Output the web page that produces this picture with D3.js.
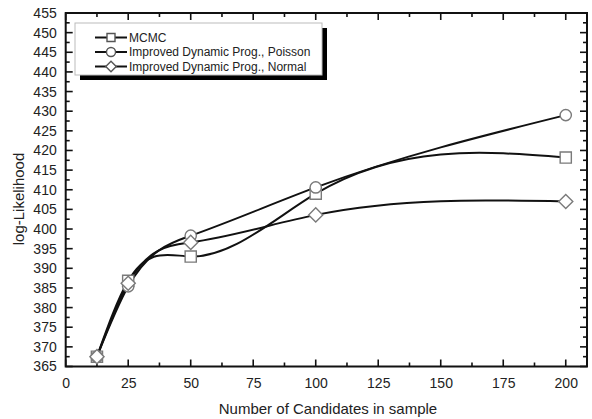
<!DOCTYPE html>
<html><head><meta charset="utf-8">
<script src="https://cdn.jsdelivr.net/npm/d3@7"></script>
<style>body{margin:0;background:#fff;} svg{display:block;}</style>
</head><body>
<svg id="c" width="592" height="419"></svg>
<script>
const xValues = [12.5, 25, 50, 100, 200];
const mcmc    = [367.5, 386.8, 393.0, 409.0, 418.2];
const poisson = [367.5, 385.4, 398.3, 410.6, 429.0];
const normal  = [367.5, 386.2, 396.6, 403.6, 407.0];
const seriesNames = ["MCMC", "Improved Dynamic Prog., Poisson", "Improved Dynamic Prog., Normal"];
const seriesSymbols = ["square", "circle", "diamond"];
const xTicks = [0, 25, 50, 75, 100, 125, 150, 175, 200];
const yTicks = d3.range(365, 456, 5);
const xTitle = "Number of Candidates in sample";
const yTitle = "log-Likelihood";

// Custom d3 curve: natural cubic spline with x as independent variable
function NaturalX(context) { this._context = context; }
NaturalX.prototype = {
  areaStart() {}, areaEnd() {},
  lineStart() { this._x = []; this._y = []; },
  point(x, y) { this._x.push(+x); this._y.push(+y); },
  lineEnd() {
    const X = this._x, Y = this._y, n = X.length, c = this._context;
    if (!n) return;
    c.moveTo(X[0], Y[0]);
    if (n === 2) { c.lineTo(X[1], Y[1]); return; }
    const h = [], d = [];
    for (let i = 0; i < n - 1; i++) { h.push(X[i+1] - X[i]); d.push((Y[i+1] - Y[i]) / h[i]); }
    // tridiagonal solve for second derivatives M (natural ends)
    const M = new Array(n).fill(0);
    const m = n - 2, a = [], b = [], cc = [], r = [];
    for (let i = 1; i <= m; i++) {
      a.push(h[i-1]); b.push(2 * (h[i-1] + h[i])); cc.push(h[i]); r.push(6 * (d[i] - d[i-1]));
    }
    for (let i = 1; i < m; i++) {
      const w = a[i] / b[i-1];
      b[i] -= w * cc[i-1]; r[i] -= w * r[i-1];
    }
    const sol = new Array(m);
    sol[m-1] = r[m-1] / b[m-1];
    for (let i = m - 2; i >= 0; i--) sol[i] = (r[i] - cc[i] * sol[i+1]) / b[i];
    for (let i = 0; i < m; i++) M[i+1] = sol[i];
    for (let i = 0; i < n - 1; i++) {
      const ml = d[i] - h[i] * (2 * M[i] + M[i+1]) / 6;
      const mr = d[i] + h[i] * (M[i] + 2 * M[i+1]) / 6;
      c.bezierCurveTo(X[i] + h[i]/3, Y[i] + ml * h[i]/3,
                      X[i+1] - h[i]/3, Y[i+1] - mr * h[i]/3, X[i+1], Y[i+1]);
    }
  }
};
const curveNaturalX = ctx => new NaturalX(ctx);

const svg = d3.select("#c");
const L = 65.7, R = 587, T = 13, B = 366.5;
const x = d3.scaleLinear().domain([0, 208.5]).range([L, R]);
const y = d3.scaleLinear().domain([365, 455]).range([B, T]);
const font = "'Liberation Sans', Arial, Helvetica, sans-serif";

// ticks (inward on all sides)
const xMinor = d3.range(0, 208, 12.5);
const yMinor = d3.range(365, 455.1, 2.5);
const tg = svg.append("g").attr("stroke", "#111").attr("stroke-width", 1.6);
xMinor.forEach(v => {
  const major = v % 25 === 0;
  const len = major ? 7 : 4;
  tg.append("line").attr("x1", x(v)).attr("x2", x(v)).attr("y1", B).attr("y2", B - len);
  tg.append("line").attr("x1", x(v)).attr("x2", x(v)).attr("y1", T).attr("y2", T + len);
});
yMinor.forEach(v => {
  const major = Math.abs(v % 5) < 1e-6;
  const len = major ? 7 : 4;
  tg.append("line").attr("y1", y(v)).attr("y2", y(v)).attr("x1", L).attr("x2", L + len);
  tg.append("line").attr("y1", y(v)).attr("y2", y(v)).attr("x1", R).attr("x2", R - len);
});

// axes labels via d3 axes (tick lines hidden)
const xAxis = svg.append("g").attr("transform", `translate(0,${B})`)
  .call(d3.axisBottom(x).tickValues(xTicks).tickSize(0).tickPadding(12).tickFormat(d3.format("d")));
const yAxis = svg.append("g").attr("transform", `translate(${L},0)`)
  .call(d3.axisLeft(y).tickValues(yTicks).tickSize(0).tickPadding(9).tickFormat(d3.format("d")));
[xAxis, yAxis].forEach(a => {
  a.select(".domain").remove();
  a.selectAll("text").attr("font-family", font).attr("font-size", 14).attr("fill", "#222");
});

// frame
svg.append("rect").attr("x", L).attr("y", T).attr("width", R - L).attr("height", B - T)
  .attr("fill", "none").attr("stroke", "#111").attr("stroke-width", 2);

// titles
svg.append("text").attr("x", 328).attr("y", 414).attr("text-anchor", "middle")
  .attr("font-family", font).attr("font-size", 15).attr("fill", "#222").text(xTitle);
svg.append("text").attr("transform", "translate(24,199) rotate(-90)").attr("text-anchor", "middle")
  .attr("font-family", font).attr("font-size", 15).attr("fill", "#222").text(yTitle);

// series
const allSeries = [mcmc, poisson, normal];
const line = d3.line().x(d => x(d[0])).y(d => y(d[1])).curve(curveNaturalX);
allSeries.forEach(s => {
  const pts = xValues.map((v, i) => [v, s[i]]);
  svg.append("path").attr("d", line(pts)).attr("fill", "none")
    .attr("stroke", "#111").attr("stroke-width", 2);
});
const symType = {square: d3.symbolSquare, circle: d3.symbolCircle, diamond: d3.symbolSquare};
function drawSym(g, kind, cx, cy, stroke, sizes) {
  g.append("path").attr("d", d3.symbol().type(symType[kind]).size(sizes[kind])())
    .attr("transform", `translate(${cx},${cy})` + (kind === "diamond" ? " rotate(45)" : ""))
    .attr("fill", "#fff").attr("stroke", stroke).attr("stroke-width", 1.4);
}
const mainSizes = {square: 125, circle: 100, diamond: 100};
const legSizes = {square: 64, circle: 64, diamond: 55};
allSeries.forEach((s, k) => {
  xValues.forEach((v, i) => drawSym(svg, seriesSymbols[k], x(v), y(s[i]), "#7a7a7a", mainSizes));
});

// legend
const lg = svg.append("g");
lg.append("rect").attr("x", 80).attr("y", 28).attr("width", 247).attr("height", 52).attr("fill", "#000");
lg.append("rect").attr("x", 75).attr("y", 23).attr("width", 247).attr("height", 52)
  .attr("fill", "#fff").attr("stroke", "#bbb").attr("stroke-width", 1);
const rowY = [37.5, 52, 66.5];
seriesNames.forEach((n, k) => {
  lg.append("line").attr("x1", 95).attr("x2", 127).attr("y1", rowY[k]).attr("y2", rowY[k])
    .attr("stroke", "#111").attr("stroke-width", 2);
  drawSym(lg, seriesSymbols[k], 111, rowY[k], "#555", legSizes);
  lg.append("text").attr("x", 129).attr("y", rowY[k]).attr("dy", "0.36em")
    .attr("font-family", font).attr("font-size", 12).attr("fill", "#222").text(n);
});
</script>
</body></html>
